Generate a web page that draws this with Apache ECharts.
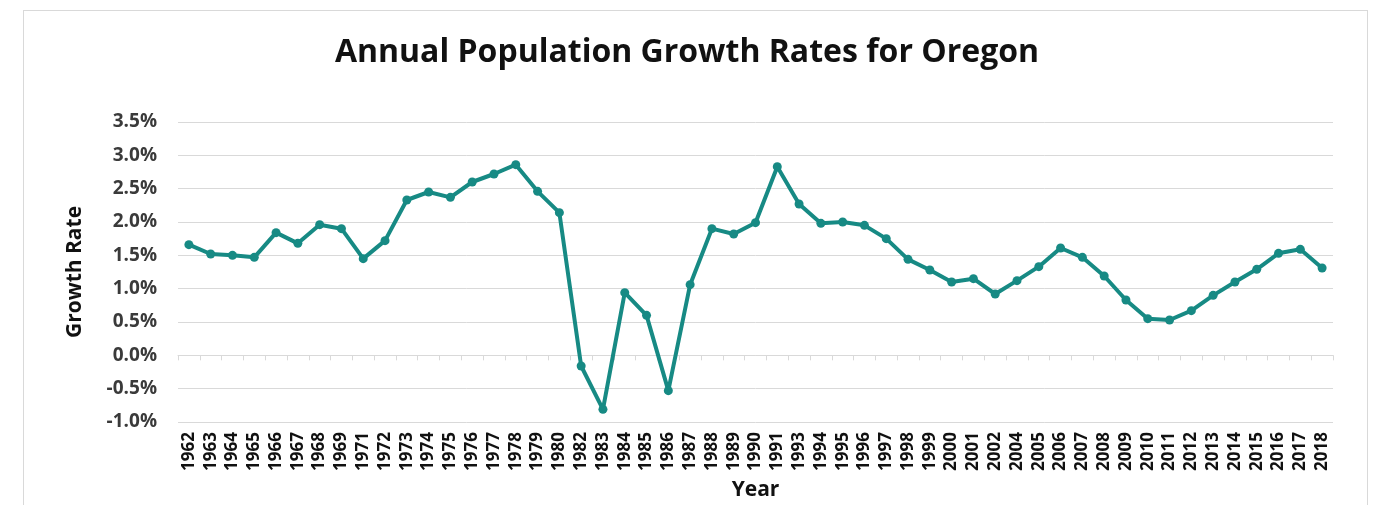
<!DOCTYPE html>
<html>
<head>
<meta charset="utf-8">
<script src="https://cdn.jsdelivr.net/npm/echarts@6/dist/echarts.min.js"></script>
<style>
  html, body { margin: 0; padding: 0; background: #fff; }
  #frame { position: absolute; left: 23px; top: 10px; width: 1345px; height: 520px; border: 1px solid #d9d9d9; box-sizing: border-box; }
  #chart { position: absolute; left: 0; top: 0; width: 1374px; height: 505px; }
</style>
</head>
<body>
<div id="frame"></div>
<div id="chart"></div>
<script>
var chart = echarts.init(document.getElementById('chart'));

var years = ['1962', '1963', '1964', '1965', '1966', '1967', '1968', '1969', '1971', '1972',
    '1973', '1974', '1975', '1976', '1977', '1978', '1979', '1980', '1982', '1983',
    '1984', '1985', '1986', '1987', '1988', '1989', '1990', '1991', '1993', '1994',
    '1995', '1996', '1997', '1998', '1999', '2000', '2001', '2002', '2004', '2005',
    '2006', '2007', '2008', '2009', '2010', '2011', '2012', '2013', '2014', '2015',
    '2016', '2017', '2018'];

// growth rate in percent
var growth = [1.66, 1.52, 1.50, 1.47, 1.84, 1.68, 1.96, 1.90, 1.45, 1.72,
    2.33, 2.45, 2.37, 2.60, 2.72, 2.86, 2.46, 2.14, -0.16, -0.81,
    0.94, 0.60, -0.53, 1.06, 1.90, 1.82, 1.99, 2.83, 2.27, 1.98,
    2.00, 1.95, 1.75, 1.44, 1.28, 1.10, 1.15, 0.92, 1.12, 1.33,
    1.61, 1.47, 1.19, 0.83, 0.55, 0.53, 0.67, 0.90, 1.10, 1.29,
    1.53, 1.59, 1.31];

var font = '"Open Sans", sans-serif';

var option = {
    animation: false,
    title: {
        text: 'Annual Population Growth Rates for Oregon',
        left: 'center',
        top: 32,
        textStyle: { fontFamily: font, fontSize: 32, fontWeight: 'bold', color: '#111' }
    },
    grid: { left: 178, right: 41, top: 122, bottom: 83, outerBoundsMode: 'none' },
    xAxis: {
        type: 'category',
        data: years,
        name: 'Year',
        nameLocation: 'middle',
        nameGap: 58,
        nameTextStyle: { fontFamily: font, fontSize: 21, fontWeight: 'bold', color: '#111' },
        axisLine: { onZero: true, lineStyle: { color: '#d9d9d9', width: 1 } },
        axisTick: { show: true, length: 5, lineStyle: { color: '#d9d9d9' } },
        axisLabel: {
            rotate: 90,
            margin: 10,
            interval: 0,
            fontFamily: font,
            fontSize: 17,
            fontWeight: 'bold',
            color: '#111'
        }
    },
    yAxis: {
        type: 'value',
        min: -1,
        max: 3.5,
        interval: 0.5,
        name: 'Growth Rate',
        nameLocation: 'middle',
        nameGap: 92,
        nameTextStyle: { fontFamily: font, fontSize: 21, fontWeight: 'bold', color: '#111' },
        axisLine: { show: false },
        axisTick: { show: false },
        axisLabel: {
            margin: 21,
            fontFamily: font,
            fontSize: 19,
            fontWeight: 'bold',
            color: '#3a3a3a',
            formatter: function (v) { return v.toFixed(1) + '%'; }
        },
        splitLine: { lineStyle: { color: '#d9d9d9', width: 1 } }
    },
    series: [{
        name: 'Growth Rate',
        type: 'line',
        data: growth,
        symbol: 'circle',
        symbolSize: 9,
        lineStyle: { color: '#178a84', width: 4 },
        itemStyle: { color: '#178a84' }
    }]
};

chart.setOption(option);
</script>
</body>
</html>
